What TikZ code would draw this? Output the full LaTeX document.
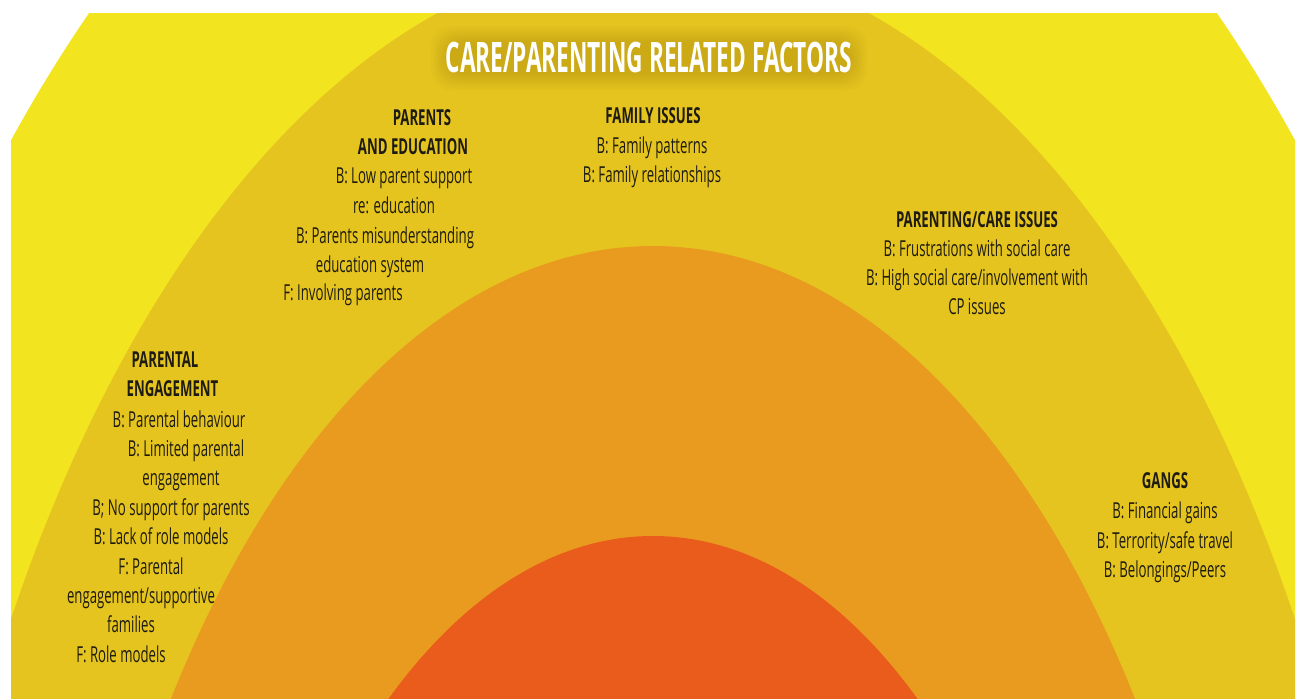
\documentclass[tikz,border=0pt]{standalone}
\usepackage{fontspec}
\setmainfont{Open Sans}[FakeStretch=0.6]
\newfontfamily\titlefont{Open Sans}[FakeStretch=0.54]
\usepackage{tikz}
\definecolor{outeryellow}{RGB}{242,228,31}
\definecolor{midyellow}{RGB}{229,196,31}
\definecolor{ringorange}{RGB}{233,155,31}
\definecolor{corered}{RGB}{234,92,27}
\definecolor{textdark}{RGB}{30,28,18}
\definecolor{glowdark}{RGB}{150,118,8}

\begin{document}
\begin{tikzpicture}
    [
      x=0.5pt, y=-0.5pt,
      head/.style={anchor=base, inner sep=0pt, text=textdark, font=\fontsize{11}{14}\selectfont\bfseries},
      item/.style={anchor=base, inner sep=0pt, text=textdark, font=\fontsize{11}{14}\selectfont},
      titletext/.style={anchor=base, inner sep=0pt, font=\fontsize{21}{24}\selectfont\titlefont\bfseries}
    ]
    \useasboundingbox (0,0) rectangle (1298,698);
    \begin{scope}
      \clip (11,13) rectangle (1295,698);
      \fill [outeryellow] (653,1363) ellipse [x radius=459pt, y radius=855.3pt];
      \fill [midyellow] (653,1363) ellipse [x radius=378pt, y radius=704pt];
      \fill [ringorange] (653,1363) ellipse [x radius=299.75pt, y radius=558.5pt];
      \fill [corered] (653,1363) ellipse [x radius=221.9pt, y radius=413.5pt];
    \end{scope}

    % soft shadow behind the title
    \foreach \g in {0,2,...,16} {
      \fill [glowdark, opacity=0.035, rounded corners=10pt] (447-\g,42-\g) rectangle (851+\g,74+\g);
    }
    \node (title) [titletext, text=white] at (649,72) {CARE/PARENTING RELATED FACTORS};

    \node (fam-h) [head] at (653,123) {FAMILY ISSUES};
    \node (fam-1) [item] at (652,153) {B: Family patterns};
    \node (fam-2) [item] at (652,182) {B: Family relationships};

    \node (edu-h1) [head] at (422,125) {PARENTS};
    \node (edu-h2) [head] at (413,154) {AND EDUCATION};
    \node (edu-1) [item] at (404,183) {B: Low parent support};
    \node (edu-2) [item] at (394,213) {re: education};
    \node (edu-3) [item] at (385,243) {B: Parents misunderstanding};
    \node (edu-4) [item] at (370,272) {education system};
    \node (edu-5) [item] at (343,300) {F: Involving parents};

    \node (care-h) [head] at (977,227) {PARENTING/CARE ISSUES};
    \node (care-1) [item] at (977,256) {B: Frustrations with social care};
    \node (care-2) [item] at (977,285.5) {B: High social care/involvement with};
    \node (care-3) [item] at (977,314) {CP issues};

    \node (eng-h1) [head] at (165,367) {PARENTAL};
    \node (eng-h2) [head] at (172.5,396) {ENGAGEMENT};
    \node (eng-1) [item] at (179,427) {B: Parental behaviour};
    \node (eng-2) [item] at (186,456) {B: Limited parental};
    \node (eng-3) [item] at (181,485) {engagement};
    \node (eng-4) [item] at (171,515) {B; No support for parents};
    \node (eng-5) [item] at (161,544) {B: Lack of role models};
    \node (eng-6) [item] at (151,574) {F: Parental};
    \node (eng-7) [item] at (141,603) {engagement/supportive};
    \node (eng-8) [item] at (131,632) {families};
    \node (eng-9) [item] at (121,662) {F: Role models};

    \node (gang-h) [head] at (1165,488) {GANGS};
    \node (gang-1) [item] at (1165,518) {B: Financial gains};
    \node (gang-2) [item] at (1165,548) {B: Terrority/safe travel};
    \node (gang-3) [item] at (1165,577) {B: Belongings/Peers};
  \end{tikzpicture}
\end{document}
